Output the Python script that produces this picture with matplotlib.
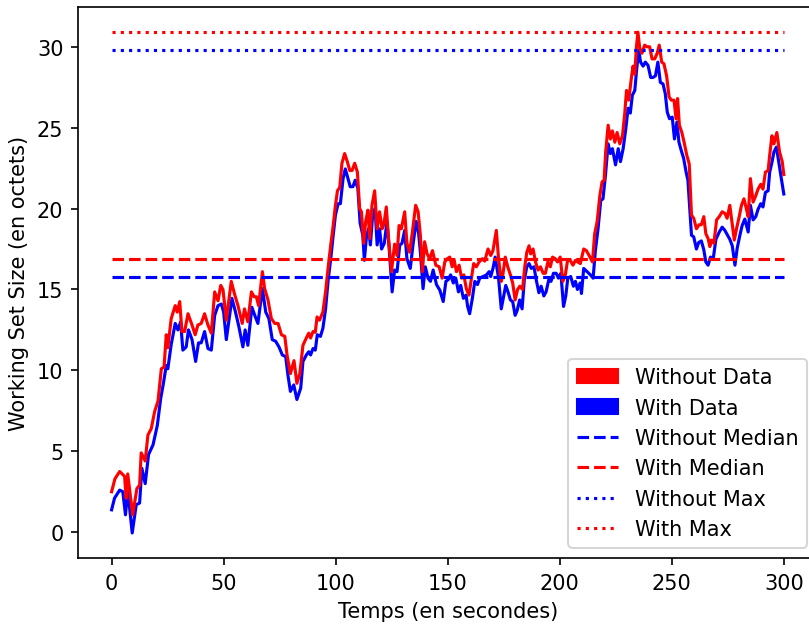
import numpy as np
import matplotlib
matplotlib.use("Agg")
import matplotlib.pyplot as plt
import matplotlib.patches as mpatches

# red series ("Without Data")
t_without = [0, 1.5, 3.6, 5.8, 6.5, 7.2, 9.4, 11.3, 12.5, 13.2, 15.0, 16.2, 17.7, 19.2, 20.7,
             22.2, 23.4, 24.4, 25.1, 26.6, 28.4, 29.3, 30.4, 31.4, 32.6, 34.1, 35.9, 37.3, 38.5,
             40.0, 41.5, 43.0, 44.5, 46.0, 47.5, 48.7, 49.7, 51.2, 53.4, 54.9, 56.4, 58.3, 59.3,
             60.8, 62.4, 63.6, 64.6, 65.6, 67.3, 68.3, 69.8, 71.3, 72.8, 74.3, 75.8, 77.3, 78.3,
             79.8, 81.4, 82.7, 84.0, 85.4, 86.9, 88.0, 88.8, 89.9, 90.9, 91.7, 92.8, 94.3, 95.5,
             96.6, 97.8, 98.9, 99.9, 100.8, 101.8, 102.8, 104.0, 105.2, 106.3, 107.3, 108.5,
             109.7, 110.7, 111.5, 112.5, 113.4, 114.4, 115.2, 116.2, 117.4, 118.5, 119.6, 120.7,
             121.5, 122.6, 123.6, 124.9, 126.3, 127.4, 128.3, 129.3, 130.8, 131.8, 133.0, 134.2,
             135.7, 136.8, 137.8, 138.7, 139.7, 140.8, 142.0, 143.2, 144.7, 146.2, 147.5, 148.7,
             149.8, 150.9, 152.0, 152.9, 153.9, 155.1, 156.2, 157.2, 158.3, 159.5, 160.6, 161.6,
             162.8, 164.0, 165.5, 166.5, 168.0, 169.2, 170.2, 171.7, 172.7, 173.9, 174.6, 175.7,
             176.8, 178.0, 179.0, 180.1, 181.2, 182.2, 183.4, 184.4, 185.3, 186.3, 187.0, 188.1,
             189.2, 190.3, 191.4, 192.6, 193.6, 194.7, 195.8, 196.8, 198.0, 199.0, 200.2, 201.4,
             202.5, 203.5, 204.7, 205.9, 207.0, 208.0, 209.2, 210.7, 211.9, 213.1, 214.6, 215.6,
             216.7, 217.9, 218.9, 219.8, 220.5, 221.6, 222.6, 223.5, 224.6, 225.6, 226.8, 228.0,
             229.0, 229.8, 230.8, 232.0, 232.7, 233.5, 234.2, 234.9, 235.7, 236.7, 237.9, 238.9,
             240.1, 241.2, 242.4, 243.5, 244.4, 245.5, 246.5, 247.7, 248.8, 249.8, 251.0, 251.9,
             252.6, 253.4, 254.5, 255.5, 256.7, 257.8, 258.8, 259.8, 261.0, 262.2, 263.2, 264.3,
             265.2, 266.2, 267.0, 267.7, 268.8, 270.0, 271.2, 272.5, 273.7, 274.7, 275.9, 277.0,
             277.9, 278.9, 280.1, 281.1, 282.2, 283.1, 284.1, 285.1, 286.3, 287.5, 288.5, 289.7,
             290.7, 291.8, 293.0, 293.7, 294.7, 295.6, 296.9, 298.1, 299.3, 300.0]
ws_without = [2.5, 3.3, 3.75, 3.45, 2.1, 3.6, 1.07, 2.7, 2.9, 4.9, 4.4, 6.0, 6.4, 7.45, 8.1,
              10.1, 10.2, 12.2, 11.4, 13.2, 14.0, 13.6, 14.25, 12.4, 12.4, 13.5, 12.8, 12.2, 12.8,
              12.9, 13.5, 12.8, 12.3, 14.85, 14.3, 15.25, 15.0, 13.1, 15.5, 14.7, 14.0, 12.9, 13.8,
              13.0, 14.85, 14.55, 14.55, 14.0, 16.1, 15.05, 14.35, 13.2, 12.9, 12.9, 12.2, 12.1, 10.95,
              9.8, 10.6, 9.2, 9.8, 11.55, 12.0, 12.3, 12.0, 12.4, 12.35, 13.3, 13.1, 13.6, 14.85,
              16.3, 17.75, 18.95, 20.2, 21.1, 21.3, 22.8, 23.4, 22.9, 22.35, 22.35, 22.8,
              22.25, 20.0, 19.8, 17.85, 19.2, 19.9, 18.15, 20.2, 21.1, 18.75, 19.8, 18.75,
              19.0, 20.1, 18.15, 16.1, 17.8, 17.1, 18.95, 18.75, 19.8, 17.85, 17.3, 18.5,
              20.2, 19.8, 18.35, 16.1, 17.95, 17.2, 16.9, 17.4, 16.5, 16.4, 15.7, 16.7,
              16.9, 17.0, 16.4, 16.8, 16.1, 16.5, 15.7, 15.9, 15.05, 14.65, 15.7, 16.6,
              16.4, 16.7, 16.9, 16.75, 17.5, 17.1, 17.4, 18.65, 16.9, 15.5, 15.9, 17.0,
              16.4, 15.9, 15.4, 14.35, 15.0, 15.2, 15.0, 16.4, 17.3, 17.7, 17.2, 17.5,
              16.7, 16.2, 16.4, 16.0, 16.0, 16.7, 16.4, 17.0, 16.9, 16.7, 17.0, 15.5,
              15.9, 16.8, 16.8, 16.5, 16.8, 16.7, 16.6, 17.5, 17.4, 17.1, 16.7, 18.45,
              19.2, 20.8, 21.65, 21.75, 23.5, 25.15, 24.3, 24.8, 24.1, 24.7, 24.0, 24.5,
              25.85, 27.3, 26.7, 28.1, 28.8, 28.3, 29.95, 30.9, 29.9, 29.6, 30.1, 30.0,
              30.0, 29.25, 29.25, 29.6, 30.1, 29.05, 28.95, 28.2, 26.9, 26.7, 26.7, 25.55,
              26.8, 25.15, 24.7, 24.1, 23.3, 22.75, 19.6, 19.4, 18.75, 19.0, 19.0, 19.5,
              18.45, 18.15, 17.65, 18.05, 17.85, 19.3, 19.5, 19.8, 19.7, 19.4, 20.2, 19.0,
              18.05, 18.75, 19.5, 20.2, 20.6, 20.1, 19.5, 21.85, 20.4, 20.8, 21.2, 21.5,
              21.2, 22.25, 22.35, 23.3, 24.5, 24.0, 24.7, 23.5, 22.9, 22.1]

# blue series ("With Data")
t_with = [0, 1.3, 3.6, 5.0, 6.2, 7.2, 9.2, 11.0, 12.5, 13.5, 15.0, 16.5, 18.5, 20.4, 21.9,
          23.0, 24.4, 25.1, 26.6, 28.4, 29.6, 30.8, 31.8, 33.3, 34.3, 35.9, 37.5, 38.8, 40.0,
          41.5, 43.0, 44.5, 46.0, 47.5, 49.0, 50.0, 51.2, 53.7, 55.3, 56.8, 58.6, 59.6, 60.8,
          62.6, 63.9, 65.3, 67.3, 68.8, 70.2, 71.7, 73.2, 74.7, 76.2, 77.7, 78.7, 79.8, 81.3,
          82.7, 84.4, 85.4, 86.9, 88.0, 88.8, 89.9, 90.9, 91.8, 93.2, 94.3, 95.5, 96.6, 97.8,
          98.9, 99.9, 101.1, 102.1, 103.3, 104.3, 105.5, 106.5, 107.7, 108.7, 109.9, 110.9,
          112.1, 112.8, 113.8, 114.7, 115.5, 116.5, 117.6, 118.5, 119.6, 120.5, 121.7, 122.9,
          123.9, 125.2, 126.3, 127.4, 128.6, 129.6, 130.8, 131.8, 133.3, 134.5, 135.9, 137.0,
          137.9, 139.0, 140.0, 141.2, 142.3, 143.5, 145.0, 146.5, 148.0, 149.2, 150.2, 151.3,
          152.5, 153.6, 154.8, 155.8, 157.0, 158.2, 158.9, 159.8, 161.0, 162.1, 163.3, 164.3,
          165.8, 167.3, 168.5, 169.2, 170.2, 171.2, 172.7, 173.9, 175.0, 175.9, 176.8, 178.0,
          179.0, 180.1, 181.0, 182.1, 183.2, 184.2, 185.3, 186.3, 187.3, 188.5, 189.5, 190.7,
          191.7, 192.9, 193.9, 195.1, 196.1, 197.2, 198.4, 199.4, 200.5, 201.7, 202.7, 203.6,
          204.9, 206.1, 207.0, 207.9, 209.1, 209.7, 210.7, 212.2, 213.7, 214.9, 215.9, 217.1,
          218.3, 219.3, 220.4, 221.6, 222.6, 223.5, 224.9, 226.1, 227.1, 228.3, 229.5, 230.5,
          231.5, 232.4, 233.5, 234.2, 235.2, 236.1, 237.2, 238.2, 239.4, 240.6, 241.6, 242.7,
          243.8, 244.9, 246.1, 247.1, 248.0, 249.0, 250.2, 251.2, 252.3, 253.2, 254.2, 255.3,
          256.4, 257.2, 258.8, 259.8, 261.0, 262.0, 263.2, 264.3, 265.2, 266.2, 267.3, 268.5,
          269.7, 271.2, 272.5, 273.7, 274.9, 275.9, 277.0, 278.2, 279.2, 280.4, 281.4, 282.6,
          284.1, 285.1, 286.3, 287.5, 288.5, 289.7, 290.7, 291.8, 293.0, 293.7, 294.7, 295.6,
          296.7, 297.7, 298.9, 300.0]
ws_with = [1.38, 2.1, 2.6, 2.5, 1.07, 2.6, -0.05, 1.7, 1.8, 3.95, 3.0, 4.8, 5.4, 6.6, 8.25,
           9.1, 10.3, 10.1, 11.6, 12.9, 12.5, 13.0, 11.25, 11.45, 12.5, 11.9, 10.55, 11.7, 11.7,
           12.4, 11.35, 11.25, 13.4, 14.0, 14.1, 13.6, 11.9, 14.45, 13.6, 12.7, 11.45, 12.5, 11.55,
           13.9, 13.4, 12.9, 15.05, 13.6, 13.2, 11.9, 11.8, 11.45, 10.95, 10.85, 9.7, 8.7, 9.1,
           8.2, 8.9, 10.55, 10.95, 11.15, 10.95, 11.35, 11.25, 12.2, 12.1, 12.6, 13.8, 15.5, 16.9,
           18.35, 19.6, 20.3, 20.3, 21.85, 22.45, 21.85, 21.35, 21.35, 21.75, 21.25, 19.1,
           18.35, 16.8, 18.35, 18.75, 17.75, 19.6, 20.0, 17.75, 18.75, 17.5, 17.85, 19.2,
           17.5, 14.85, 16.2, 16.1, 17.75, 17.85, 18.65, 16.9, 16.3, 17.75, 19.2, 18.5,
           17.15, 15.05, 16.4, 15.7, 15.5, 16.2, 15.3, 14.95, 14.25, 15.5, 15.6, 15.9,
           15.4, 15.7, 14.85, 15.25, 14.45, 14.65, 13.95, 13.5, 14.45, 15.5, 15.3, 15.7,
           15.8, 15.9, 16.1, 15.8, 16.3, 17.0, 15.7, 13.8, 14.6, 15.25, 14.9, 14.35,
           14.25, 13.4, 13.7, 14.35, 13.8, 15.6, 16.4, 16.6, 16.3, 16.4, 15.6, 14.8,
           15.2, 14.6, 14.85, 15.6, 15.5, 16.0, 16.0, 15.7, 16.0, 13.95, 14.6, 15.7,
           15.8, 15.2, 15.5, 15.0, 15.4, 14.75, 16.3, 16.1, 15.9, 15.7, 17.4, 18.75,
           20.5, 20.6, 22.05, 24.0, 23.4, 23.7, 22.7, 23.7, 22.9, 23.7, 24.95, 26.2,
           25.9, 27.0, 27.3, 28.4, 29.8, 29.05, 28.8, 29.05, 28.85, 28.1, 28.1, 28.2,
           29.05, 27.8, 27.7, 27.1, 25.95, 25.55, 25.65, 24.3, 25.35, 24.1, 23.6, 23.1,
           22.25, 21.75, 18.35, 18.25, 17.5, 17.9, 18.0, 17.45, 16.7, 16.5, 17.0, 16.9,
           18.1, 18.55, 18.85, 18.65, 18.35, 18.1, 17.7, 16.5, 17.55, 18.35, 18.95, 19.35,
           18.55, 20.2, 19.3, 19.5, 19.95, 20.3, 20.1, 21.0, 21.1, 22.25, 22.85, 23.5,
           23.8, 22.9, 21.85, 20.9]

# reference lines: [with data (blue), without data (red)]
medians = [15.8, 16.9]
maxima = [29.8, 30.9]
t_span = [0, 300]

fig = plt.figure(figsize=(809 / 150, 626 / 150), dpi=150)
ax = fig.add_axes([0.0964, 0.107, 0.914, 0.880])

ax.plot(t_with, ws_with, color='blue')
ax.plot(t_without, ws_without, color='red')

ax.hlines(medians[0], t_span[0], t_span[1], colors='blue', linestyles='dashed')
ax.hlines(medians[1], t_span[0], t_span[1], colors='red', linestyles='dashed')
ax.hlines(maxima[0], t_span[0], t_span[1], colors='blue', linestyles='dotted')
ax.hlines(maxima[1], t_span[0], t_span[1], colors='red', linestyles='dotted')

ax.set_xlabel('Temps (en secondes)')
ax.set_ylabel('Working Set Size (en octets)')

handles = [
    mpatches.Patch(color='red', label='Without Data'),
    mpatches.Patch(color='blue', label='With Data'),
    plt.Line2D([], [], color='blue', linestyle='--', label='Without Median'),
    plt.Line2D([], [], color='red', linestyle='--', label='With Median'),
    plt.Line2D([], [], color='blue', linestyle=':', label='Without Max'),
    plt.Line2D([], [], color='red', linestyle=':', label='With Max'),
]
ax.legend(handles=handles, loc='lower right')

fig.savefig('out.png', dpi=150)
